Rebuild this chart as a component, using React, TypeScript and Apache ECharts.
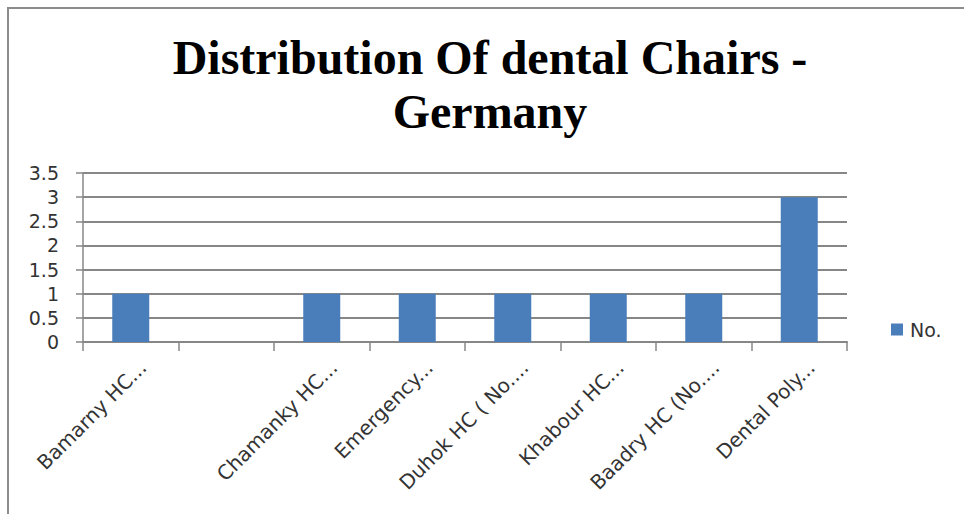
import React, { useEffect, useRef } from "react";
import * as echarts from "echarts";

// Dental chairs per centre
const categories: string[] = [
  "Bamarny HC...",
  "",
  "Chamanky HC...",
  "Emergency...",
  "Duhok HC ( No....",
  "Khabour HC...",
  "Baadry HC (No....",
  "Dental Poly...",
];
const chairs: (number | null)[] = [1, null, 1, 1, 1, 1, 1, 3];
const seriesName = "No.";
const titleLines: string[] = ["Distribution Of dental Chairs -", "Germany"];

const GRID_GRAY = "#878787";
const BAR_BLUE = "#4A7EBB";
const LABEL_FONT = "DejaVu Sans";

export default function App() {
  const ref = useRef<HTMLDivElement | null>(null);

  useEffect(() => {
    if (!ref.current) return;
    const chart = echarts.init(ref.current, null, { renderer: "svg" });
    chart.setOption({
      animation: false,
      backgroundColor: "#ffffff",
      graphic: [
        {
          type: "text",
          x: 490,
          y: 30,
          style: {
            text: titleLines.join("\n"),
            font: 'bold 48px "Liberation Serif"',
            textAlign: "center",
            lineHeight: 54,
            fill: "#000000",
          },
        },
      ],
      legend: {
        data: [seriesName],
        left: 891,
        top: 320,
        padding: 0,
        itemWidth: 12,
        itemHeight: 12,
        itemGap: 6,
        icon: "rect",
        textStyle: {
          fontFamily: LABEL_FONT,
          fontSize: 19,
          color: "#333333",
          padding: [0, 0, 0, 2],
        },
      },
      grid: { left: 83, right: 117, top: 173, bottom: 172, containLabel: false },
      xAxis: {
        type: "category",
        data: categories,
        boundaryGap: true,
        axisLine: { show: true, lineStyle: { color: GRID_GRAY, width: 2 } },
        axisTick: {
          show: true,
          length: 9,
          lineStyle: { color: GRID_GRAY, width: 1.5 },
        },
        axisLabel: {
          interval: 0,
          rotate: 45,
          margin: 34,
          fontFamily: LABEL_FONT,
          fontSize: 20,
          color: "#333333",
          padding: [0, -17, 0, 0],
        },
      },
      yAxis: {
        type: "value",
        min: 0,
        max: 3.5,
        interval: 0.5,
        axisLine: { show: true, lineStyle: { color: GRID_GRAY, width: 1.5 } },
        axisTick: {
          show: true,
          length: 7,
          lineStyle: { color: GRID_GRAY, width: 1.5 },
        },
        splitLine: { show: true, lineStyle: { color: GRID_GRAY, width: 2 } },
        axisLabel: {
          margin: 24,
          fontFamily: LABEL_FONT,
          fontSize: 19,
          color: "#333333",
        },
      },
      series: [
        {
          name: seriesName,
          type: "bar",
          data: chairs,
          barWidth: 37,
          itemStyle: { color: BAR_BLUE },
        },
      ],
    });
    return () => chart.dispose();
  }, []);

  return (
    <>
      <div
        ref={ref}
        style={{ position: "fixed", left: 0, top: 0, width: 964, height: 514 }}
      />
      <div
        style={{
          position: "fixed",
          left: 7,
          top: 7,
          width: 960,
          height: 510,
          borderLeft: "2px solid #8c8c8c",
          borderTop: "2px solid #8c8c8c",
          pointerEvents: "none",
        }}
      />
    </>
  );
}
